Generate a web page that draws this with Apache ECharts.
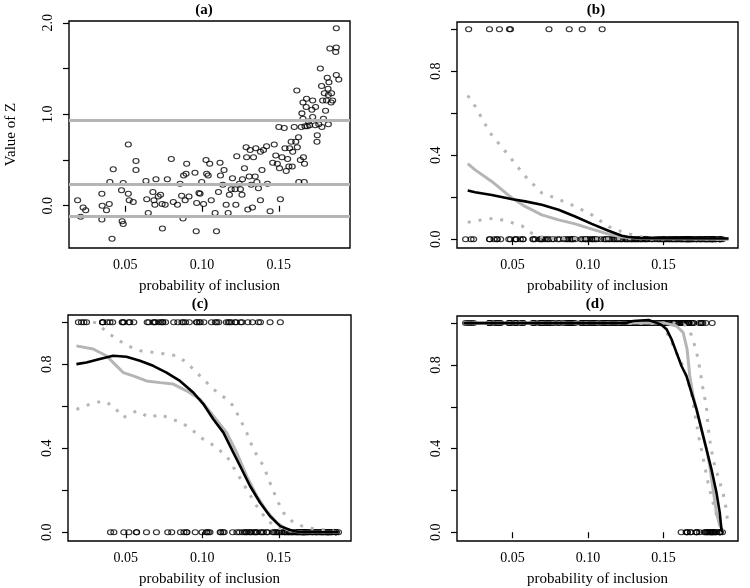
<!DOCTYPE html>
<html><head><meta charset="utf-8">
<script src="https://cdn.jsdelivr.net/npm/echarts@6/dist/echarts.min.js"></script>
<style>html,body{margin:0;padding:0;background:#fff}#c{width:750px;height:588px}</style>
</head><body><div id="c"></div>
<script>
// ---- Panel (a): probability of inclusion vs value of Z ----
const inclusionProb = [0.019,0.021,0.0226,0.0243,0.0348,0.0348,0.035,0.0378,0.0396,0.040,0.0414,0.0422,0.048,0.0487,0.0476,0.0487,0.052,0.052,0.0526,0.0552,0.057,0.057,0.0635,0.064,0.065,0.068,0.0687,0.0693,0.070,0.0715,0.0742,0.073,0.074,0.076,0.0774,0.080,0.0813,0.084,0.0857,0.0876,0.0867,0.088,0.089,0.0896,0.090,0.0915,0.0962,0.0954,0.0965,0.098,0.0987,0.0998,0.101,0.1026,0.103,0.104,0.105,0.106,0.1094,0.1085,0.1107,0.1117,0.112,0.1135,0.1143,0.1157,0.117,0.1178,0.119,0.1198,0.1215,0.122,0.1226,0.1243,0.125,0.126,0.1263,0.1276,0.1287,0.129,0.1298,0.1307,0.1313,0.132,0.1328,0.1335,0.1346,0.135,0.1357,0.1367,0.138,0.138,0.139,0.140,0.142,0.1426,0.1443,0.146,0.147,0.148,0.149,0.150,0.1504,0.151,0.152,0.1535,0.154,0.1548,0.1557,0.1565,0.157,0.158,0.1587,0.159,0.160,0.161,0.1617,0.162,0.1628,0.163,0.164,0.1646,0.165,0.1657,0.166,0.1665,0.1667,0.167,0.1678,0.168,0.1693,0.170,0.1715,0.172,0.1737,0.1748,0.175,0.176,0.177,0.1778,0.1785,0.179,0.1796,0.1804,0.181,0.182,0.1826,0.1832,0.184,0.1843,0.185,0.1874,0.1874,0.187,0.1874,0.189,0.1657,0.1685,0.172,0.1739,0.178,0.1815,0.1822,0.1822];
const zValue = [0.06,-0.12,-0.02,-0.05,-0.15,0.13,0.0,-0.05,0.02,0.26,-0.36,0.40,-0.17,-0.20,0.17,0.25,0.67,0.13,0.06,0.04,0.49,0.39,0.27,0.07,-0.08,0.15,0.06,0.01,0.29,0.10,-0.25,0.12,0.02,0.01,0.29,0.51,0.04,0.01,0.24,-0.14,0.11,0.33,0.06,0.35,0.46,0.10,-0.28,0.36,0.03,0.14,0.13,0.26,0.02,0.50,0.35,0.33,0.46,0.06,-0.28,-0.08,0.15,0.47,0.33,0.23,0.39,0.01,-0.08,0.12,0.18,0.30,0.18,0.01,0.54,0.24,0.18,0.12,0.29,0.41,0.64,0.53,-0.04,0.32,0.61,0.23,-0.02,0.53,0.32,0.63,0.26,0.19,0.59,0.06,0.39,0.61,0.65,0.24,-0.06,0.47,0.67,0.55,0.46,0.86,0.41,0.07,0.53,0.85,0.63,0.38,0.51,0.43,0.63,0.70,0.43,0.59,0.86,0.70,1.26,0.64,0.75,0.26,0.50,0.86,1.01,1.13,0.53,0.26,0.46,0.87,1.08,1.17,0.92,0.88,1.05,0.97,0.88,0.70,0.77,0.89,1.50,1.31,1.15,0.95,1.23,1.04,1.15,1.28,1.35,1.72,1.13,1.23,1.15,1.94,1.73,1.68,1.43,1.38,0.95,0.87,1.15,1.08,0.86,1.40,1.21,0.89];
// grey horizontal reference lines (cut-offs) in panel (a); panels (b),(c),(d) show Z < cut-off
const cutoffs = [-0.113, 0.226, 0.937];

// ---- Curves: [probability of inclusion, estimate] ----
const bBlack = [[0.0204,0.232],[0.0253,0.223],[0.0363,0.21],[0.05,0.19],[0.0584,0.18],[0.0694,0.164],[0.0805,0.14],[0.0915,0.108],[0.1025,0.073],[0.1136,0.04],[0.1224,0.016],[0.1268,0.01],[0.135,0.005],[0.193,0.003]];
const bGrey = [[0.0204,0.36],[0.0253,0.33],[0.0363,0.275],[0.0473,0.21],[0.05,0.195],[0.0584,0.156],[0.0694,0.116],[0.0805,0.092],[0.0915,0.073],[0.1025,0.048],[0.1136,0.024],[0.1224,0.01],[0.1357,0.003],[0.193,0.0]];
const bUpper = [[0.0204,0.684],[0.0253,0.633],[0.0352,0.506],[0.0473,0.40],[0.0584,0.30],[0.0694,0.22],[0.0805,0.19],[0.0915,0.156],[0.1025,0.116],[0.1136,0.06],[0.1246,0.029],[0.1357,0.01],[0.15,0.003],[0.193,0.003]];
const bLower = [[0.0204,0.08],[0.0296,0.092],[0.0385,0.10],[0.0473,0.084],[0.0561,0.064],[0.0627,0.029],[0.0694,0.01],[0.0805,0.003],[0.193,0.0]];

const cBlack = [[0.0177,0.80],[0.0242,0.808],[0.033,0.824],[0.0417,0.84],[0.0504,0.835],[0.0592,0.816],[0.0679,0.792],[0.0766,0.76],[0.0854,0.72],[0.0941,0.665],[0.1007,0.61],[0.1072,0.538],[0.1138,0.474],[0.1203,0.379],[0.1247,0.315],[0.1312,0.22],[0.1378,0.14],[0.1443,0.076],[0.1509,0.029],[0.1574,0.01],[0.164,0.0],[0.1891,0.0]];
const cGrey = [[0.0177,0.887],[0.0286,0.872],[0.0373,0.84],[0.0439,0.792],[0.0483,0.76],[0.0548,0.744],[0.0635,0.72],[0.0723,0.712],[0.081,0.705],[0.0897,0.673],[0.0985,0.633],[0.1072,0.553],[0.1159,0.474],[0.1225,0.379],[0.129,0.267],[0.1356,0.172],[0.1421,0.10],[0.1487,0.045],[0.1552,0.013],[0.164,0.0],[0.1891,0.0]];
const cUpper = [[0.0286,1.0],[0.0308,0.996],[0.0362,0.962],[0.0439,0.919],[0.0515,0.887],[0.0592,0.864],[0.0679,0.856],[0.0766,0.848],[0.0832,0.84],[0.0897,0.808],[0.0985,0.744],[0.1072,0.681],[0.1159,0.633],[0.1203,0.601],[0.1247,0.538],[0.129,0.474],[0.1334,0.394],[0.14,0.315],[0.1443,0.235],[0.1487,0.156],[0.1531,0.092],[0.1596,0.045],[0.1683,0.021],[0.1771,0.013],[0.1858,0.01]];
const cLower = [[0.0177,0.585],[0.0264,0.609],[0.0352,0.625],[0.0417,0.601],[0.0483,0.546],[0.057,0.577],[0.0657,0.546],[0.0723,0.561],[0.0788,0.541],[0.0865,0.522],[0.0941,0.482],[0.1007,0.442],[0.1072,0.414],[0.1159,0.363],[0.1225,0.283],[0.129,0.204],[0.1356,0.124],[0.1421,0.06],[0.1487,0.021],[0.1574,0.005],[0.164,0.0],[0.1891,0.0]];

const dBlack = [[0.0176,1.0],[0.125,1.0],[0.13,1.01],[0.14,1.015],[0.146,1.0],[0.149,0.99],[0.152,0.971],[0.1553,0.923],[0.1586,0.859],[0.1619,0.795],[0.1652,0.747],[0.1685,0.668],[0.1718,0.589],[0.1751,0.493],[0.1784,0.398],[0.1817,0.302],[0.185,0.191],[0.1872,0.095],[0.1883,0.016],[0.1888,0.0]];
const dGrey = [[0.0176,1.0],[0.1509,1.0],[0.1586,0.986],[0.163,0.955],[0.1656,0.875],[0.1674,0.747],[0.1696,0.652],[0.1729,0.557],[0.1762,0.461],[0.1784,0.398],[0.1806,0.318],[0.1828,0.207],[0.185,0.095],[0.1872,0.032],[0.1894,0.008]];
const dUpper = [[0.0176,1.0],[0.1575,1.0],[0.1641,0.991],[0.1685,0.943],[0.1718,0.864],[0.174,0.784],[0.1762,0.681],[0.1784,0.601],[0.1795,0.506],[0.1806,0.442],[0.1828,0.347],[0.1861,0.267],[0.1894,0.188],[0.1916,0.108],[0.1927,0.029]];
const dLower = [[0.0176,1.0],[0.1487,0.999],[0.1542,0.927],[0.1586,0.856],[0.163,0.792],[0.1663,0.72],[0.1685,0.665],[0.1703,0.585],[0.1718,0.522],[0.1733,0.458],[0.1751,0.394],[0.1773,0.315],[0.1795,0.235],[0.1822,0.156],[0.185,0.084],[0.1883,0.029],[0.1905,0.005]];

// ---- Ticks / labels ----
const panelTitles = ['(a)', '(b)', '(c)', '(d)'];
const xTicks = [0.05, 0.10, 0.15];
const yTicksA = [0, 0.5, 1.0, 1.5, 2.0];
const yLabelsA = [0, 1.0, 2.0];
const yTicksP = [0, 0.2, 0.4, 0.6, 0.8, 1.0];
const yLabelsP = [0, 0.4, 0.8];
const xName = 'probability of inclusion';
const yNameA = 'Value of Z';

const FONT = '"Liberation Serif", "DejaVu Serif", serif';
const grids = [
  {left: 69, top: 21, width: 281, height: 227},
  {left: 457, top: 22, width: 281, height: 226},
  {left: 68, top: 315, width: 283, height: 227},
  {left: 457, top: 316, width: 281, height: 227}
];
const xRanges = [[0.0134, 0.1963], [0.0133, 0.1993], [0.0122, 0.1972], [0.0133, 0.1993]];
const yRanges = [[-0.462, 2.02], [-0.042, 1.034], [-0.042, 1.034], [-0.042, 1.034]];

const chart = echarts.init(document.getElementById('c'), null, {renderer: 'canvas'});

const xAxes = grids.map((g, i) => ({
  type: 'value', gridIndex: i, min: xRanges[i][0], max: xRanges[i][1],
  axisLine: {show: false},
  axisTick: {show: true, inside: false, length: 6, lineStyle: {color: '#000', width: 1.2}, customValues: xTicks},
  axisLabel: {customValues: xTicks, formatter: v => v.toFixed(2), fontFamily: FONT, fontSize: 14, color: '#000', margin: 10},
  splitLine: {show: false},
  name: xName, nameLocation: 'middle', nameGap: 31,
  nameTextStyle: {fontFamily: FONT, fontSize: 15, color: '#000'}
}));
const yAxes = grids.map((g, i) => ({
  type: 'value', gridIndex: i, min: yRanges[i][0], max: yRanges[i][1],
  axisLine: {show: false},
  axisTick: {show: true, inside: false, length: 6, lineStyle: {color: '#000', width: 1.2}, customValues: i === 0 ? yTicksA : yTicksP},
  axisLabel: {customValues: i === 0 ? yLabelsA : yLabelsP, formatter: v => v.toFixed(1), rotate: 90, fontFamily: FONT, fontSize: 14, color: '#000', margin: 14},
  splitLine: {show: false},
  name: i === 0 ? yNameA : '', nameLocation: 'middle', nameGap: 50,
  nameTextStyle: {fontFamily: FONT, fontSize: 15, color: '#000'}
}));

const circleStyle = {color: 'rgba(0,0,0,0)', borderColor: '#000', borderWidth: 1.1};
const GREY = '#b5b5b5';
const series = [];
series.push({
  type: 'scatter', xAxisIndex: 0, yAxisIndex: 0, symbol: 'circle', symbolSize: [6, 5],
  itemStyle: circleStyle,
  data: inclusionProb.map((x, k) => [x, zValue[k]]),
  markLine: {silent: true, symbol: 'none', label: {show: false},
    lineStyle: {color: GREY, width: 3, type: 'solid'},
    data: cutoffs.map(c => ({yAxis: c}))}
});
const curves = [
  [bLower, bUpper, bGrey, bBlack],
  [cLower, cUpper, cGrey, cBlack],
  [dLower, dUpper, dGrey, dBlack]
];
for (let p = 0; p < 3; p++) {
  const ai = p + 1;
  series.push({
    type: 'scatter', xAxisIndex: ai, yAxisIndex: ai, symbol: 'circle', symbolSize: [6, 5],
    itemStyle: circleStyle,
    data: inclusionProb.map((x, k) => [x, zValue[k] < cutoffs[p] ? 1 : 0])
  });
  const [lo, up, gr, bk] = curves[p];
  [lo, up].forEach(d => series.push({type: 'line', xAxisIndex: ai, yAxisIndex: ai, data: d, symbol: 'none',
    lineStyle: {color: GREY, width: 3, type: [3, 8]}}));
  series.push({type: 'line', xAxisIndex: ai, yAxisIndex: ai, data: gr, symbol: 'none', lineStyle: {color: GREY, width: 3}});
  series.push({type: 'line', xAxisIndex: ai, yAxisIndex: ai, data: bk, symbol: 'none', lineStyle: {color: '#000', width: 2.6}});
}

const titlePos = [[204, 10], [596, 10], [200, 304], [595, 304]];
chart.setOption({
  animation: false,
  backgroundColor: '#fff',
  grid: grids.map(g => Object.assign({show: true, borderColor: '#000', borderWidth: 1.4, backgroundColor: 'transparent', containLabel: false}, g)),
  xAxis: xAxes,
  yAxis: yAxes,
  graphic: panelTitles.map((t, i) => ({type: 'text', x: titlePos[i][0], y: titlePos[i][1],
    style: {text: t, fontFamily: FONT, fontWeight: 'bold', fontSize: 15, fill: '#000', textAlign: 'center', textVerticalAlign: 'middle'}})),
  series: series
});
</script></body></html>
